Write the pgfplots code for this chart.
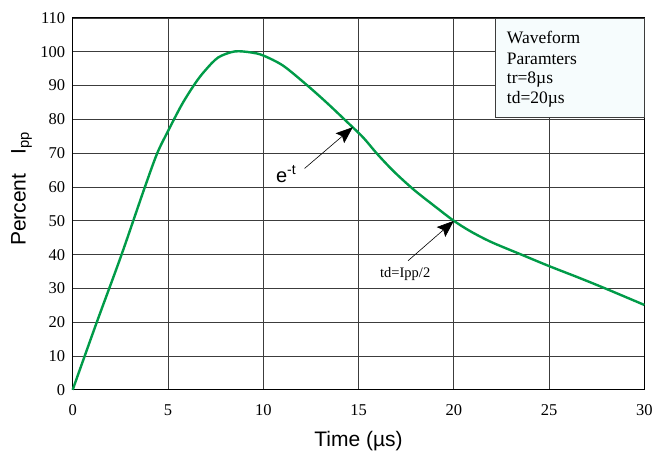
\documentclass[border=0pt]{standalone}
\usepackage{pgfplots}
\pgfplotsset{compat=1.18}
\usetikzlibrary{arrows.meta}
\usepackage{fontspec}
\setmainfont{Liberation Serif}
\newfontfamily\arial{Liberation Sans}

\definecolor{curvegreen}{RGB}{0,155,72}
\definecolor{boxfill}{RGB}{246,252,253}
\definecolor{gridgray}{RGB}{60,60,60}

\begin{document}
\begin{tikzpicture}
\begin{axis}[
    scale only axis,
    width=572pt, height=372pt,
    xmin=0, xmax=30,
    ymin=0, ymax=110,
    xtick={0,5,...,30},
    ytick={0,10,...,110},
    major tick length=0pt,
    grid=major,
    grid style={gridgray, line width=0.9pt},
    axis line style={black, line width=1pt},
    tick label style={font=\fontsize{16.5}{18}\selectfont},
    /pgf/number format/assume math mode=true,
    xticklabel style={yshift=-11pt},
    yticklabel style={xshift=-4pt},
    xlabel={\arial Time (µs)},
    xlabel style={font=\fontsize{21}{24}\selectfont, at={(axis description cs:0.5,0)}, anchor=center, yshift=-51pt},
    ylabel={\arial Percent\hspace{0.9em}I\textsubscript{pp}},
    ylabel style={font=\fontsize{21}{24}\selectfont, at={(axis description cs:0,0.5)}, anchor=base, xshift=15pt, yshift=47pt},
    clip=false,
]
\coordinate (bl) at (rel axis cs:0,0);
\coordinate (tr) at (rel axis cs:1,1);

\addplot[curvegreen, line width=2.4pt, smooth, tension=0.5] coordinates {
    (0,0) (1.24,19.6) (2.54,39.6) (3.74,59.2) (4.43,69.9) (5.0,76.5)
    (5.73,84.4) (6.42,90.6) (6.94,94.4) (7.63,98.3) (8.5,100.1) (9.37,99.8)
    (10.0,98.9) (11.04,95.9) (12.26,90.3) (13.3,85.1) (14.37,79.4) (15.25,74.6)
    (15.96,69.9) (16.85,64.6) (17.9,59.2) (19.0,54.3) (20,50) (20.9,46.8)
    (21.97,43.7) (23.5,40.1) (25,36.6) (26.5,33.3) (27.9,30.1) (30,25.1)
};

% parameter box
\draw[fill=boxfill, draw=gridgray, line width=0.9pt] (axis cs:22.2,80.5) rectangle (axis cs:30,110);
\node[anchor=west, font=\fontsize{17.5}{19}\selectfont] at (axis cs:22.6,104.1) {Waveform};
\node[anchor=west, font=\fontsize{17.5}{19}\selectfont] at (axis cs:22.6,98.0) {Paramters};
\node[anchor=west, font=\fontsize{17.5}{19}\selectfont] at (axis cs:22.6,91.8) {tr=8µs};
\node[anchor=west, font=\fontsize{17.5}{19}\selectfont] at (axis cs:22.6,85.8) {td=20µs};

% annotations
\draw[-{Stealth[length=17pt, width=13pt, inset=3pt]}, line width=0.6pt] (axis cs:12.17,65.5) -- (axis cs:14.7,77.7);
\node[font=\arial\fontsize{20}{22}\selectfont] at (axis cs:11.2,63.9) {e\textsuperscript{-t}};
\draw[-{Stealth[length=17pt, width=13pt, inset=3pt]}, line width=0.6pt] (axis cs:17.6,38.2) -- (axis cs:20,50);
\node[font=\fontsize{14.5}{16}\selectfont] at (axis cs:17.45,34.2) {td=Ipp/2};
\end{axis}
\useasboundingbox ([shift={(-72.7pt,-69pt)}]bl) rectangle ([shift={(11pt,18pt)}]tr);
\end{tikzpicture}
\end{document}
